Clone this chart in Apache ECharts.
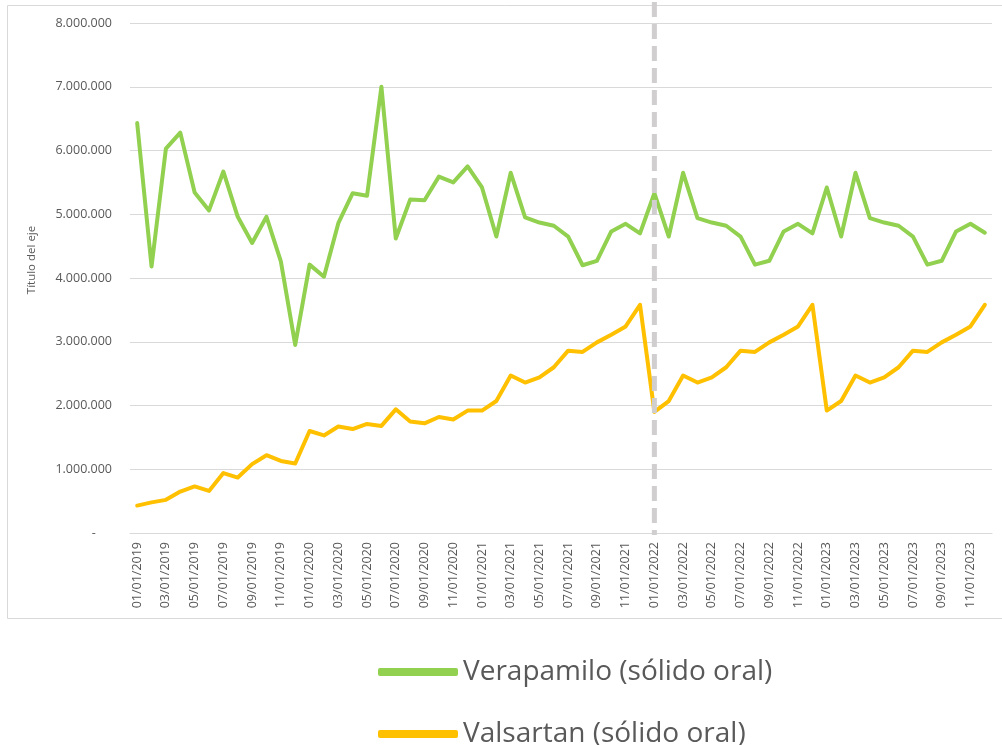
<!DOCTYPE html>
<html>
<head>
<meta charset="utf-8">
<style>
    html, body { margin: 0; padding: 0; background: #ffffff; }
    #chart01 { width: 1002px; height: 745px; }
</style>
<script src="https://cdn.jsdelivr.net/npm/echarts@6/dist/echarts.min.js"></script>
</head>
<body>
<div id="chart01"></div>
<script>
var categories = [
    '01/01/2019', '02/01/2019', '03/01/2019', '04/01/2019', '05/01/2019', '06/01/2019',
    '07/01/2019', '08/01/2019', '09/01/2019', '10/01/2019', '11/01/2019', '12/01/2019',
    '01/01/2020', '02/01/2020', '03/01/2020', '04/01/2020', '05/01/2020', '06/01/2020',
    '07/01/2020', '08/01/2020', '09/01/2020', '10/01/2020', '11/01/2020', '12/01/2020',
    '01/01/2021', '02/01/2021', '03/01/2021', '04/01/2021', '05/01/2021', '06/01/2021',
    '07/01/2021', '08/01/2021', '09/01/2021', '10/01/2021', '11/01/2021', '12/01/2021',
    '01/01/2022', '02/01/2022', '03/01/2022', '04/01/2022', '05/01/2022', '06/01/2022',
    '07/01/2022', '08/01/2022', '09/01/2022', '10/01/2022', '11/01/2022', '12/01/2022',
    '01/01/2023', '02/01/2023', '03/01/2023', '04/01/2023', '05/01/2023', '06/01/2023',
    '07/01/2023', '08/01/2023', '09/01/2023', '10/01/2023', '11/01/2023', '12/01/2023'
];

var verapamilo = [
    6430000, 4180000, 6030000, 6280000, 5340000, 5060000, 5670000, 4960000, 4550000, 4960000, 4260000, 2950000,
    4210000, 4020000, 4860000, 5330000, 5290000, 7000000, 4620000, 5230000, 5220000, 5590000, 5500000, 5750000,
    5420000, 4650000, 5650000, 4950000, 4870000, 4820000, 4650000, 4200000, 4270000, 4730000, 4850000, 4700000,
    5330000, 4650000, 5650000, 4940000, 4870000, 4820000, 4650000, 4210000, 4270000, 4730000, 4850000, 4700000,
    5420000, 4650000, 5650000, 4940000, 4870000, 4820000, 4650000, 4210000, 4270000, 4730000, 4850000, 4710000
];

var valsartan = [
    430000, 480000, 520000, 650000, 730000, 660000, 940000, 870000, 1080000, 1220000, 1130000, 1090000,
    1600000, 1530000, 1670000, 1630000, 1710000, 1680000, 1940000, 1750000, 1720000, 1820000, 1780000, 1920000,
    1920000, 2070000, 2470000, 2360000, 2440000, 2600000, 2860000, 2840000, 2990000, 3110000, 3240000, 3580000,
    1900000, 2070000, 2470000, 2360000, 2440000, 2600000, 2860000, 2840000, 2990000, 3110000, 3240000, 3580000,
    1920000, 2070000, 2470000, 2360000, 2440000, 2600000, 2860000, 2840000, 2990000, 3110000, 3240000, 3580000
];

var seriesNames = ['Verapamilo (sólido oral)', 'Valsartan (sólido oral)'];
var markerDate = '01/01/2022';

function formatMiles(v) {
    if (v === 0) {
        return '-     ';
    }
    return String(v).replace(/\B(?=(\d{3})+(?!\d))/g, '.');
}

function legendRow(name, top) {
    return {
        orient: 'horizontal',
        left: 378,
        top: top,
        padding: 0,
        itemWidth: 80,
        itemHeight: 8,
        icon: 'roundRect',
        textStyle: {
            fontSize: 28,
            color: '#595959',
            fontFamily: 'Open Sans'
        },
        data: [name]
    };
}

function chart01(id) {
    var myChart = echarts.init(document.getElementById(id));
    var option = {
        animation: false,
        grid: {
            left: 130,
            right: 10,
            top: 23,
            bottom: 212
        },
        legend: [
            legendRow(seriesNames[0], 658),
            legendRow(seriesNames[1], 720)
        ],
        xAxis: {
            type: 'category',
            boundaryGap: true,
            data: categories,
            axisTick: {
                show: false
            },
            axisLine: {
                show: true,
                lineStyle: {
                    color: '#d9d9d9',
                    width: 1
                }
            },
            axisLabel: {
                interval: 1,
                rotate: 90,
                margin: 9,
                fontSize: 12.5,
                color: '#595959',
                fontFamily: 'Open Sans'
            }
        },
        yAxis: {
            type: 'value',
            min: 0,
            max: 8000000,
            interval: 1000000,
            name: 'Título del eje',
            nameLocation: 'middle',
            nameGap: 92,
            nameTextStyle: {
                fontSize: 11.5,
                color: '#595959',
                fontFamily: 'Open Sans',
                padding: [0, 0, 0, 36]
            },
            axisLine: {
                show: false
            },
            axisTick: {
                show: false
            },
            splitLine: {
                show: true,
                lineStyle: {
                    color: '#d9d9d9',
                    width: 1
                }
            },
            axisLabel: {
                fontSize: 12.5,
                color: '#595959',
                fontFamily: 'Open Sans',
                margin: 18,
                formatter: formatMiles
            }
        },
        series: [
            {
                name: seriesNames[0],
                type: 'line',
                symbol: 'none',
                data: verapamilo,
                itemStyle: {
                    color: '#92d050'
                },
                lineStyle: {
                    color: '#92d050',
                    width: 4,
                    cap: 'round',
                    join: 'round'
                }
            },
            {
                name: seriesNames[1],
                type: 'line',
                symbol: 'none',
                data: valsartan,
                itemStyle: {
                    color: '#ffc000'
                },
                lineStyle: {
                    color: '#ffc000',
                    width: 4,
                    cap: 'round',
                    join: 'round'
                }
            }
        ]
    };

    myChart.setOption(option);

    // outer frame + dashed marker line at 01/01/2022
    var mx = myChart.convertToPixel({ xAxisIndex: 0 }, markerDate);
    var y0 = myChart.convertToPixel({ yAxisIndex: 0 }, 0);
    myChart.setOption({
        graphic: [
            {
                type: 'rect',
                z: -1,
                shape: { x: 7.5, y: 5.5, width: 1010, height: 613 },
                style: { fill: 'none', stroke: '#d9d9d9', lineWidth: 1 }
            },
            {
                type: 'line',
                z: 100,
                shape: { x1: mx, y1: 2, x2: mx, y2: y0 + 2 },
                style: { stroke: '#d0cece', lineWidth: 5, lineDash: [15, 7] }
            }
        ]
    });
    return myChart;
}

var chartInit01 = chart01('chart01');
window.addEventListener('resize', function () {
    chartInit01.resize();
});
</script>
</body>
</html>
